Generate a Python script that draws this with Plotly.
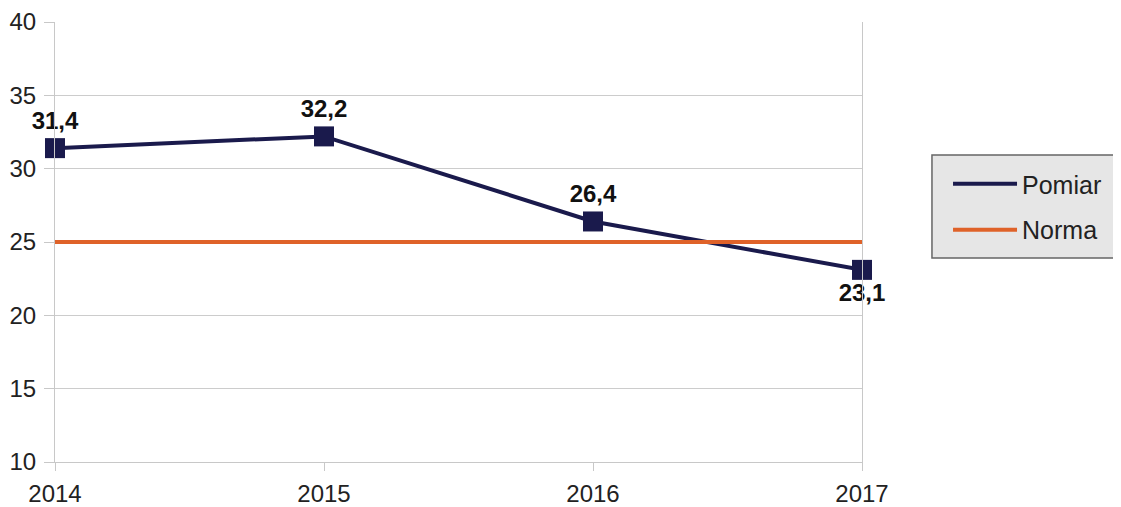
import plotly.graph_objects as go

years = [2014, 2015, 2016, 2017]
pomiar = [31.4, 32.2, 26.4, 23.1]
norma = [25, 25, 25, 25]
label_pos = ["top center", "top center", "top center", "bottom center"]
y_ticks = [10, 15, 20, 25, 30, 35, 40]

NAVY = "#1a1a4c"
ORANGE = "#df6229"
FONT = "Liberation Sans, Arial"

fig = go.Figure()
fig.add_trace(go.Scatter(
    x=years, y=pomiar, name="Pomiar", mode="lines",
    line=dict(color=NAVY, width=4), legend="legend",
))
fig.add_trace(go.Scatter(
    x=years, y=pomiar, name="Pomiar", mode="markers+text", showlegend=False,
    marker=dict(symbol="square", size=20, color=NAVY),
    texttemplate="%{y:.1f}", textposition=label_pos, cliponaxis=False,
    textfont=dict(family=FONT, size=24, color="#111111", weight="bold"),
))
fig.add_trace(go.Scatter(
    x=years, y=norma, name="Norma", mode="lines",
    line=dict(color=ORANGE, width=4), legend="legend2",
))

leg_common = dict(
    xanchor="left", yanchor="middle", bgcolor="rgba(0,0,0,0)", borderwidth=0,
    font=dict(family=FONT, size=25, color="#222222"), itemwidth=64,
)

fig.update_layout(
    width=1113, height=499,
    margin=dict(l=47, r=259, t=14, b=45, autoexpand=False),
    paper_bgcolor="white", plot_bgcolor="white",
    separators=", ",
    font=dict(family=FONT, size=24, color="#222222"),
    showlegend=True,
    legend=dict(x=1.1066, y=0.6318, **leg_common),
    legend2=dict(x=1.1066, y=0.5273, **leg_common),
    shapes=[dict(
        type="rect", xref="paper", yref="paper", layer="below",
        x0=1.0867, x1=1.3185, y0=0.4636, y1=0.6977,
        fillcolor="#e6e6e6", line=dict(color="#666666", width=1.5),
    )],
)
fig.update_xaxes(
    range=[2014, 2017], tickvals=years, ticktext=[str(y) for y in years],
    showgrid=False, showline=True, linecolor="#c8c8c8", linewidth=1,
    ticks="outside", ticklen=8, tickcolor="#c8c8c8", zeroline=False,
    automargin=False, ticklabelstandoff=2,
)
fig.update_yaxes(
    range=[10, 40], tickvals=y_ticks, showgrid=True, gridcolor="#cccccc",
    showline=True, linecolor="#c8c8c8", mirror=True, linewidth=1,
    ticks="outside", ticklen=10, tickcolor="#c8c8c8", zeroline=False,
    automargin=False, ticklabelstandoff=3,
)

fig.write_html("out.html")
